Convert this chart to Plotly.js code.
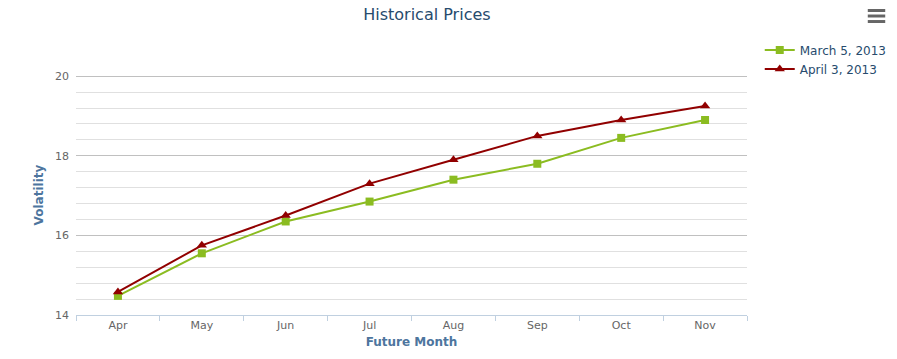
<!DOCTYPE html>
<html><head><meta charset="utf-8">
<script src="https://cdn.plot.ly/plotly-3.0.1.min.js"></script>
<style>body{margin:0;padding:0;background:#fff}#chart{width:897px;height:359px}</style>
</head><body><div id="chart"></div>
<script>
const months = ["Apr","May","Jun","Jul","Aug","Sep","Oct","Nov"];
const march5 = [14.48,15.55,16.35,16.85,17.4,17.8,18.45,18.9];
const april3 = [14.58,15.75,16.5,17.3,17.9,18.5,18.9,19.25];
const seriesNames = ["March 5, 2013","April 3, 2013"];

const font = "'DejaVu Sans', Verdana, sans-serif";
const traces = [
  {x: months, y: march5, name: seriesNames[0], type: "scatter", mode: "lines+markers",
   line: {color: "#8bbc21", width: 2}, marker: {symbol: "square", size: 8, color: "#8bbc21"}},
  {x: months, y: april3, name: seriesNames[1], type: "scatter", mode: "lines+markers",
   line: {color: "#910000", width: 2}, marker: {symbol: "triangle-up", size: 9, color: "#910000"}}
];
const layout = {
  width: 897, height: 359,
  margin: {l: 76, r: 150, t: 75, b: 44, autoexpand: false},
  paper_bgcolor: "#fff", plot_bgcolor: "#fff",
  font: {family: font, color: "#606060", size: 11},
  title: {text: "Historical Prices", font: {family: font, size: 16, color: "#274b6d"}, x: 0.523, xanchor: "center", xref: "paper", y: 0.96, yanchor: "middle"},
  showlegend: true,
  legend: {x: 1.019, xanchor: "left", y: 1.165, yanchor: "top", font: {family: font, size: 12, color: "#274b6d"},
           bgcolor: "rgba(0,0,0,0)", tracegroupgap: 0, itemwidth: 30},
  xaxis: {type: "category", tickson: "boundaries", ticks: "outside", ticklen: 5, tickcolor: "#C0D0E0",
          showline: true, linecolor: "#C0D0E0", linewidth: 1, showgrid: false, zeroline: false,
          tickfont: {size: 11, color: "#666"}, range: [-0.5, 7.5],
          title: {text: "<b>Future Month</b>", font: {size: 12, color: "#4d759e"}, standoff: 6}},
  yaxis: {range: [14, 20.03], dtick: 2, tick0: 14, showline: false, zeroline: false, ticks: "",
          ticklabelstandoff: 6,
          gridcolor: "#C0C0C0", gridwidth: 1, tickfont: {size: 11, color: "#666"},
          minor: {dtick: 0.4, tick0: 14, showgrid: true, gridcolor: "#E0E0E0", gridwidth: 1},
          title: {text: "<b>Volatility</b>", font: {size: 12, color: "#4d759e"}, standoff: 8}},
  shapes: [
    {type: "rect", xref: "paper", yref: "paper", x0: 1.180, x1: 1.206, y0: 1.2625, y1: 1.275, fillcolor: "#666", line: {width: 0}},
    {type: "rect", xref: "paper", yref: "paper", x0: 1.180, x1: 1.206, y0: 1.2396, y1: 1.252, fillcolor: "#666", line: {width: 0}},
    {type: "rect", xref: "paper", yref: "paper", x0: 1.180, x1: 1.206, y0: 1.2167, y1: 1.229, fillcolor: "#666", line: {width: 0}}
  ]
};
Plotly.newPlot("chart", traces, layout, {displayModeBar: false, responsive: false});
</script></body></html>
